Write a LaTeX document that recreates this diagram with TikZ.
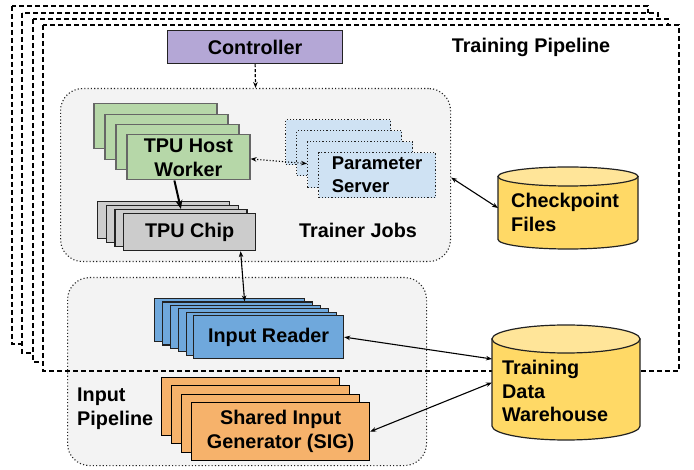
\documentclass[tikz,border=0pt]{standalone}
\usepackage{fontspec}
\setmainfont{Liberation Sans}
\usetikzlibrary{arrows.meta}
\definecolor{ctrlc}{HTML}{B4A7D6}
\definecolor{hostc}{HTML}{B6D7A8}
\definecolor{paramc}{HTML}{CFE2F3}
\definecolor{chipc}{HTML}{CCCCCC}
\definecolor{readc}{HTML}{6FA8DC}
\definecolor{sigc}{HTML}{F6B26B}
\definecolor{cylc}{HTML}{FFD966}
\definecolor{cyltopc}{HTML}{FFE599}
\definecolor{regc}{HTML}{F3F3F3}
\definecolor{edgec}{HTML}{222222}
\tikzset{
  frame/.style={draw=black, line width=1.1pt, dash pattern=on 5pt off 3pt},
  region/.style={draw=edgec, fill=regc, line width=1.1pt, dash pattern=on 1.1pt off 2.2pt,
    rounded corners=22pt, anchor=north west, inner sep=0pt},
  boxbase/.style={line width=1.2pt, anchor=north west, inner sep=0pt, align=center},
  hostbox/.style={boxbase, draw=black!60, fill=hostc, minimum width=123pt, minimum height=45pt},
  parambox/.style={boxbase, draw=edgec, fill=paramc, dash pattern=on 1.2pt off 2pt, minimum height=45pt},
  chipbox/.style={boxbase, draw=edgec, fill=chipc, minimum width=132pt, minimum height=37pt},
  readbox/.style={boxbase, draw=edgec, fill=readc, minimum width=150pt, minimum height=43pt},
  sigbox/.style={boxbase, draw=black, fill=sigc, minimum width=178pt, minimum height=58pt},
  ctrlbox/.style={boxbase, draw=edgec, fill=ctrlc, minimum width=175pt, minimum height=33pt},
  lbl/.style={inner sep=0pt, align=left},
  conn/.style={line width=1.1pt, {Stealth[length=6pt,width=4.5pt]}-{Stealth[length=6pt,width=4.5pt]}},
  anchorbox/.style={inner sep=0pt, outer sep=0pt},
  cylpart/.style={draw=edgec, line width=1.2pt},
}
\begin{document}
\begin{tikzpicture}[x=1pt,y=-1pt, font=\fontsize{19.8}{23.8}\selectfont\bfseries]
\useasboundingbox (0,0) rectangle (694,470);
\fill[white] (0,0) rectangle (694,470);
% stacked frames
\draw[frame, fill=white] (12,6) rectangle (648,344);
\draw[frame, fill=white] (22,13) rectangle (658,353);
\draw[frame, fill=white] (33,19) rectangle (668,362);
\fill[white] (43,25) rectangle (679,371);
% regions
\node (trainer) [region, minimum width=390pt, minimum height=173pt] at (60,88) {};
\node (inputreg) [region, minimum width=359pt, minimum height=188pt] at (67,277) {};
\draw[frame] (43,25) rectangle (679,371);
% labels
\node (tplabel) [lbl] at (531,47) {Training Pipeline};
\node (tjlabel) [lbl] at (358,230) {Trainer Jobs};
\node (iplabel) [lbl, anchor=west] at (77,408.5) {Input\\Pipeline};
% controller
\node (ctrl) [ctrlbox] at (167,30) {Controller};
% host workers
\node (h1) [hostbox] at (93.3,103.3) {};
\node (h2) [hostbox] at (104.3,113.7) {};
\node (h3) [hostbox] at (115.3,124) {};
\node (host) [hostbox] at (126.3,134.3) {TPU Host\\Worker};
% parameter servers
\node (p1) [parambox, minimum width=105pt] at (285,119) {};
\node (p2) [parambox, minimum width=105pt] at (296,130) {};
\node (p3) [parambox, minimum width=105pt, minimum height=46pt] at (307,141) {};
\node (param) [parambox, minimum width=117pt, align=left, font=\fontsize{18.5}{23}\selectfont\bfseries] at (318,152) {Parameter\\Server};
% chips
\node (c1) [chipbox] at (97,201) {};
\node (c2) [chipbox] at (105.7,205) {};
\node (c3) [chipbox] at (114.3,209) {};
\node (chip) [chipbox] at (123,213) {TPU Chip};
% input readers
\node (r1) [readbox] at (154,298) {};
\node (r2) [readbox] at (162,301.4) {};
\node (r3) [readbox] at (170,304.8) {};
\node (r4) [readbox] at (178,308.2) {};
\node (r5) [readbox] at (186,311.6) {};
\node (reader) [readbox] at (193,315) {Input Reader};
% SIG
\node (s1) [sigbox] at (161,377) {};
\node (s2) [sigbox] at (171,385.3) {};
\node (s3) [sigbox] at (181,393.7) {};
\node (sig) [sigbox] at (191,402) {Shared Input\\Generator (SIG)};
% checkpoint cylinder
\node (ckpt) [anchorbox, minimum width=140pt, minimum height=82pt] at (568,208) {};
\filldraw[cylpart, fill=cylc] (498,176.5) -- (498,239.5)
  arc[start angle=180, end angle=360, x radius=70pt, y radius=9.5pt] -- (638,176.5) -- cycle;
\filldraw[cylpart, fill=cyltopc] (568,176.5) ellipse [x radius=70pt, y radius=9.5pt];
\node (cklabel) [lbl, anchor=west] at (511,212.5) {Checkpoint\\Files};
% warehouse cylinder
\node (wh) [anchorbox, minimum width=148pt, minimum height=115pt] at (566,382.5) {};
\filldraw[cylpart, fill=cylc] (492,339) -- (492,426)
  arc[start angle=180, end angle=360, x radius=74pt, y radius=14pt] -- (640,339) -- cycle;
\filldraw[cylpart, fill=cyltopc] (566,339) ellipse [x radius=74pt, y radius=14pt];
\node (whlabel) [lbl, anchor=west] at (502,391) {Training\\Data\\Warehouse};
% connectors
\draw[line width=1.2pt, dash pattern=on 3pt off 2pt, -{Stealth[length=6pt,width=4.5pt]}] (ctrl.south) -- (trainer.north);
\draw[line width=1.1pt, dash pattern=on 1.1pt off 2pt, {Stealth[length=6pt,width=4.5pt]}-{Stealth[length=6pt,width=4.5pt]}]
  ([yshift=-1.5pt]host.east) -- ([yshift=1pt]p3.west);
\draw[line width=2pt, -{Stealth[length=9pt,width=7pt]}] ([xshift=-14pt]host.south) -- (c3.north);
\draw[conn] ([xshift=51pt]chip.south) -- ([xshift=7pt]r2.north);
\draw[conn] ([yshift=-2.5pt]trainer.east) -- (ckpt.west);
\draw[conn] (reader.east) -- ([yshift=23.5pt]wh.west);
\draw[conn] (sig.east) -- (wh.west);
\end{tikzpicture}
\end{document}
